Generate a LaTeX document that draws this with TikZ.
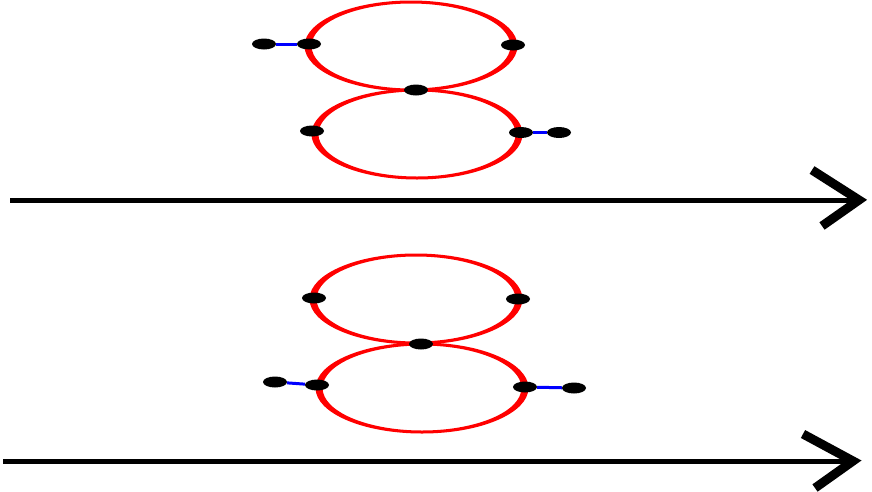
\documentclass[tikz,border=0pt]{standalone}
\usetikzlibrary{shapes.geometric}
\begin{document}
\begin{tikzpicture}[x=1pt,y=-1pt,
  dot/.style={ellipse,fill=black,draw=none,minimum width=24pt,minimum height=11pt,inner sep=0pt},
  link/.style={blue,line width=3pt},
  axis/.style={black,line width=5pt},
  chev/.style={black,line width=9pt,miter limit=10},
  loopline/.style={red,line width=3pt}]
\useasboundingbox (0,0) rectangle (872,491);
% ---- top figure loops
\begin{scope}[transform canvas={shift={(411,46)},xscale=2.34}]
  \draw[loopline] (0,0) circle[radius=44pt];
\end{scope}
\begin{scope}[transform canvas={shift={(417,134)},xscale=2.32}]
  \draw[loopline] (0,0) circle[radius=44pt];
\end{scope}
% ---- bottom figure loops
\begin{scope}[transform canvas={shift={(416,299)},xscale=2.34}]
  \draw[loopline] (0,0) circle[radius=44pt];
\end{scope}
\begin{scope}[transform canvas={shift={(422,388)},xscale=2.34}]
  \draw[loopline] (0,0) circle[radius=44pt];
\end{scope}
% ---- top dots
\node[dot] (t1) at (264,44) {};
\node[dot] (t2) at (309,44) {};
\node[dot] (t3) at (513,45) {};
\node[dot] (t4) at (416,90) {};
\node[dot] (t5) at (312,131) {};
\node[dot] (t6) at (521,132.5) {};
\node[dot] (t7) at (559,132.5) {};
\draw[link] (t1) -- (t2);
\draw[link] (t6) -- (t7);
% ---- bottom dots
\node[dot] (b1) at (314,298) {};
\node[dot] (b2) at (518,299) {};
\node[dot] (b3) at (421,344) {};
\node[dot] (b4) at (275,382) {};
\node[dot] (b5) at (317,385) {};
\node[dot] (b6) at (525,387) {};
\node[dot] (b7) at (574,388) {};
\draw[link] (b4) -- (b5);
\draw[link] (b6) -- (b7);
% ---- arrows
\coordinate (a1s) at (10,200);
\coordinate (a1e) at (859,200);
\coordinate (a1u) at (812,170);
\coordinate (a1l) at (822,226);
\draw[axis] (a1s) -- (a1e);
\draw[chev] (a1u) -- (a1e) -- (a1l);
\coordinate (a2s) at (3,461);
\coordinate (a2e) at (853,461);
\coordinate (a2u) at (803,434);
\coordinate (a2l) at (815,488);
\draw[axis] (a2s) -- (a2e);
\draw[chev] (a2u) -- (a2e) -- (a2l);
\end{tikzpicture}
\end{document}
